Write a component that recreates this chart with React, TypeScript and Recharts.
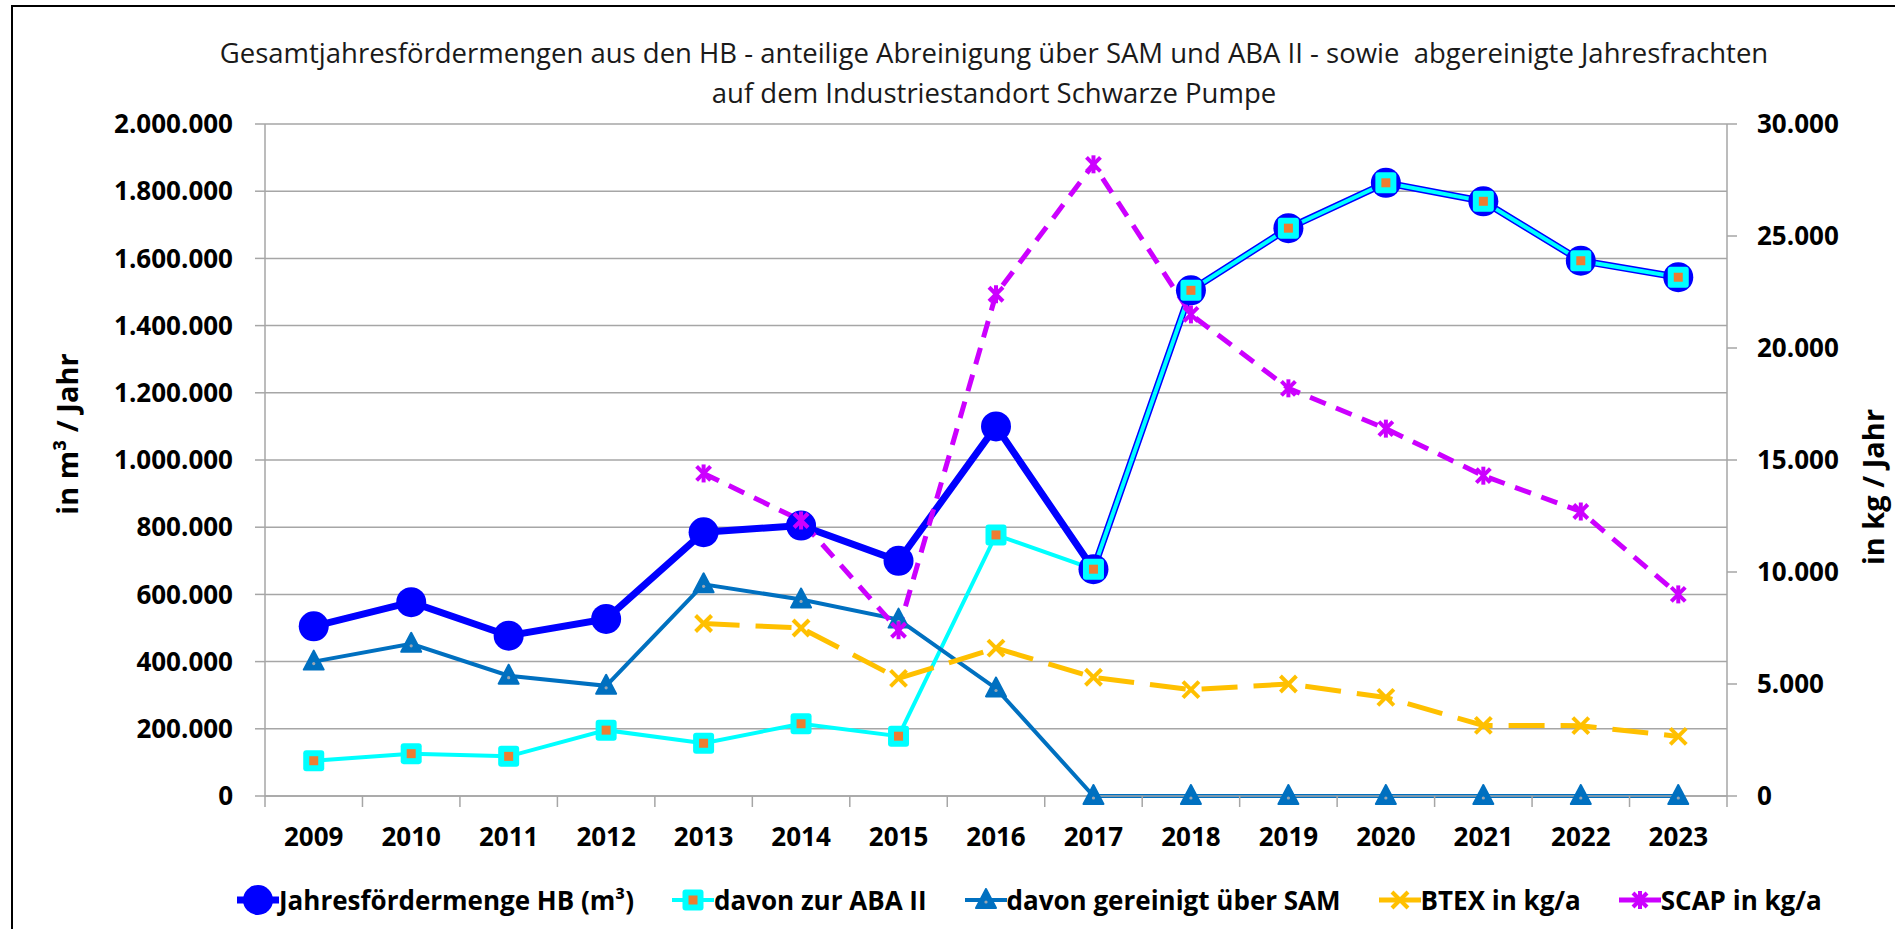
import { LineChart, Line, XAxis, YAxis, CartesianGrid } from 'recharts'

const years = ['2009', '2010', '2011', '2012', '2013', '2014', '2015', '2016', '2017', '2018', '2019', '2020', '2021', '2022', '2023']

// m³ per year (left axis)
const jahresfoerdermenge = [505000, 577000, 477000, 527000, 785000, 805000, 700000, 1100000, 675000, 1505000, 1690000, 1825000, 1770000, 1593000, 1544000]
const davonAbaII = [105000, 126000, 118000, 196000, 157000, 215000, 178000, 777000, 675000, 1505000, 1690000, 1825000, 1770000, 1593000, 1544000]
const davonSam = [400000, 453000, 358000, 328000, 630000, 585000, 525000, 320000, 0, 0, 0, 0, 0, 0, 0]

// kg per year (right axis)
const btex = [null, null, null, null, 7700, 7500, 5250, 6600, 5300, 4750, 5000, 4400, 3150, 3140, 2660]
const scap = [null, null, null, null, 14400, 12300, 7400, 22400, 28200, 21500, 18200, 16400, 14300, 12700, 9000]

const leftTicks = [0, 200000, 400000, 600000, 800000, 1000000, 1200000, 1400000, 1600000, 1800000, 2000000]
const rightTicks = [0, 5000, 10000, 15000, 20000, 25000, 30000]

const data = years.map((year, i) => ({
  year,
  jhb: jahresfoerdermenge[i],
  aba: davonAbaII[i],
  sam: davonSam[i],
  btex: btex[i],
  scap: scap[i],
}))

const FONT = '"Open Sans", sans-serif'
const GRID = '#A6A6A6'
const BLUE = '#0000FF'
const CYAN = '#00FFFF'
const ORANGE = '#ED7D31'
const SAM_BLUE = '#0070C0'
const GOLD = '#FFC000'
const PURPLE = '#CC00FF'

const PLOT_LEFT = 265
const PLOT_RIGHT = 1727
const BAND = (PLOT_RIGHT - PLOT_LEFT) / years.length

const fmt = (v: number) => String(v).replace(/\B(?=(\d{3})+(?!\d))/g, '.')

function CircleMark({ cx, cy }: { cx: number; cy: number }) {
  return <circle cx={cx} cy={cy} r={15} fill={BLUE} />
}
function SquareMark({ cx, cy }: { cx: number; cy: number }) {
  return (
    <g>
      <rect x={cx - 10.5} y={cy - 10.5} width={21} height={21} rx={3} fill={CYAN} />
      <rect x={cx - 4.5} y={cy - 4.5} width={9} height={9} fill={ORANGE} />
    </g>
  )
}
function TriangleMark({ cx, cy }: { cx: number; cy: number }) {
  return (
    <g>
      <polygon
        points={`${cx},${cy - 11} ${cx - 10},${cy + 8} ${cx + 10},${cy + 8}`}
        fill={SAM_BLUE}
        stroke={SAM_BLUE}
        strokeWidth={2}
        strokeLinejoin="round"
      />
      <circle cx={cx} cy={cy + 2} r={1.6} fill="#9AA7B4" />
    </g>
  )
}
function XMark({ cx, cy }: { cx: number; cy: number }) {
  return (
    <g stroke={GOLD} strokeWidth={4}>
      <line x1={cx - 8} y1={cy - 8} x2={cx + 8} y2={cy + 8} />
      <line x1={cx - 8} y1={cy + 8} x2={cx + 8} y2={cy - 8} />
    </g>
  )
}
function StarMark({ cx, cy }: { cx: number; cy: number }) {
  return (
    <g stroke={PURPLE} strokeWidth={4}>
      <line x1={cx - 7} y1={cy - 7} x2={cx + 7} y2={cy + 7} />
      <line x1={cx - 7} y1={cy + 7} x2={cx + 7} y2={cy - 7} />
      <line x1={cx} y1={cy - 9} x2={cx} y2={cy + 9} />
    </g>
  )
}

const makeDot = (Mark: (p: { cx: number; cy: number }) => any) => (props: any) => {
  const { cx, cy, index, value } = props
  if (value == null || cy == null || isNaN(cy)) return <g key={index} />
  return (
    <g key={index}>
      <Mark cx={cx} cy={cy} />
    </g>
  )
}

function YearTick(props: any) {
  const { x, y, payload, index } = props
  return (
    <g>
      <line x1={x - BAND / 2} x2={x - BAND / 2} y1={y} y2={y + 11} stroke={GRID} strokeWidth={1.5} />
      {index === years.length - 1 && (
        <line x1={x + BAND / 2} x2={x + BAND / 2} y1={y} y2={y + 11} stroke={GRID} strokeWidth={1.5} />
      )}
      <text x={x} y={y + 50} textAnchor="middle" fill="#000" fontSize={26} fontWeight={700} fontFamily={FONT}>
        {payload.value}
      </text>
    </g>
  )
}

const legendItems = [
  { label: 'Jahresfördermenge HB (m³)', color: BLUE, width: 7, Mark: CircleMark },
  { label: 'davon zur ABA II', color: CYAN, width: 4, Mark: SquareMark },
  { label: 'davon gereinigt über SAM', color: SAM_BLUE, width: 4, Mark: TriangleMark },
  { label: 'BTEX in kg/a', color: GOLD, width: 5, Mark: XMark },
  { label: 'SCAP in kg/a', color: PURPLE, width: 5, Mark: StarMark },
]

export default function App() {
  return (
    <div
      style={{
        position: 'absolute',
        left: 0,
        top: 0,
        width: 1895,
        height: 929,
        background: '#fff',
        overflow: 'hidden',
        fontFamily: FONT,
      }}
    >
      {/* chart frame, cut off on the right and bottom */}
      <div
        style={{
          position: 'absolute',
          left: 11,
          top: 5,
          width: 1900,
          height: 940,
          borderLeft: '2px solid #000',
          borderTop: '2px solid #000',
        }}
      />

      {/* Title */}
      <div
        style={{
          position: 'absolute',
          left: 94,
          top: 33,
          width: 1800,
          textAlign: 'center',
          fontSize: 27.5,
          lineHeight: '40px',
          color: '#1a1a1a',
          whiteSpace: 'pre',
        }}
      >
        {'Gesamtjahresfördermengen aus den HB - anteilige Abreinigung über SAM und ABA II - sowie  abgereinigte Jahresfrachten\nauf dem Industriestandort Schwarze Pumpe'}
      </div>

      <div style={{ position: 'absolute', left: 0, top: 0 }}>
        <LineChart width={1895} height={929} data={data} margin={{ top: 124, right: 0, bottom: 93, left: 0 }}>
          <CartesianGrid yAxisId="left" vertical={false} stroke={GRID} strokeWidth={1.5} />
          <XAxis
            dataKey="year"
            interval={0}
            height={40}
            padding={{ left: BAND / 2, right: BAND / 2 }}
            axisLine={{ stroke: GRID, strokeWidth: 1.5 }}
            tickLine={false}
            tickSize={0}
            tickMargin={0}
            tick={<YearTick />}
          />
          <YAxis
            yAxisId="left"
            width={265}
            domain={[0, 2000000]}
            ticks={leftTicks}
            interval={0}
            tickFormatter={fmt}
            tickSize={10}
            tickMargin={22}
            axisLine={{ stroke: GRID, strokeWidth: 1.5 }}
            tickLine={{ stroke: GRID, strokeWidth: 1.5 }}
            tick={{ fill: '#000', fontSize: 26, fontWeight: 700, fontFamily: FONT }}
            label={{
              content: () => (
                <text
                  x={66}
                  y={434}
                  transform="rotate(-90, 66, 434)"
                  textAnchor="middle"
                  dominantBaseline="central"
                  fontSize={29}
                  fontWeight={700}
                  fontFamily={FONT}
                  fill="#000"
                >
                  in m³ / Jahr
                </text>
              ),
            }}
          />
          <YAxis
            yAxisId="right"
            orientation="right"
            width={168}
            domain={[0, 30000]}
            ticks={rightTicks}
            interval={0}
            tickFormatter={fmt}
            tickSize={10}
            tickMargin={20}
            axisLine={{ stroke: GRID, strokeWidth: 1.5 }}
            tickLine={{ stroke: GRID, strokeWidth: 1.5 }}
            tick={{ fill: '#000', fontSize: 26, fontWeight: 700, fontFamily: FONT }}
            label={{
              content: () => (
                <text
                  x={1872}
                  y={487}
                  transform="rotate(-90, 1872, 487)"
                  textAnchor="middle"
                  dominantBaseline="central"
                  fontSize={29}
                  fontWeight={700}
                  fontFamily={FONT}
                  fill="#000"
                >
                  in kg / Jahr
                </text>
              ),
            }}
          />
          <Line
            yAxisId="left"
            dataKey="jhb"
            stroke={BLUE}
            strokeWidth={7}
            dot={makeDot(CircleMark)}
            activeDot={false}
            isAnimationActive={false}
          />
          <Line
            yAxisId="left"
            dataKey="aba"
            stroke={CYAN}
            strokeWidth={4}
            dot={makeDot(SquareMark)}
            activeDot={false}
            isAnimationActive={false}
          />
          <Line
            yAxisId="left"
            dataKey="sam"
            stroke={SAM_BLUE}
            strokeWidth={4}
            dot={makeDot(TriangleMark)}
            activeDot={false}
            isAnimationActive={false}
          />
          <Line
            yAxisId="right"
            dataKey="btex"
            stroke={GOLD}
            strokeWidth={5}
            strokeDasharray="36 16"
            dot={makeDot(XMark)}
            activeDot={false}
            isAnimationActive={false}
          />
          <Line
            yAxisId="right"
            dataKey="scap"
            stroke={PURPLE}
            strokeWidth={5}
            strokeDasharray="17 11"
            dot={makeDot(StarMark)}
            activeDot={false}
            isAnimationActive={false}
          />
        </LineChart>
      </div>

      {/* Legend */}
      <div
        style={{
          position: 'absolute',
          left: 237,
          top: 880,
          height: 40,
          display: 'flex',
          alignItems: 'center',
          gap: 38,
          fontSize: 26,
          fontWeight: 700,
          color: '#000',
        }}
      >
        {legendItems.map((it) => (
          <div key={it.label} style={{ display: 'flex', alignItems: 'center' }}>
            <svg width={42} height={32}>
              <line x1={0} y1={16} x2={42} y2={16} stroke={it.color} strokeWidth={it.width} />
              <it.Mark cx={21} cy={16} />
            </svg>
            <span>{it.label}</span>
          </div>
        ))}
      </div>
    </div>
  )
}
